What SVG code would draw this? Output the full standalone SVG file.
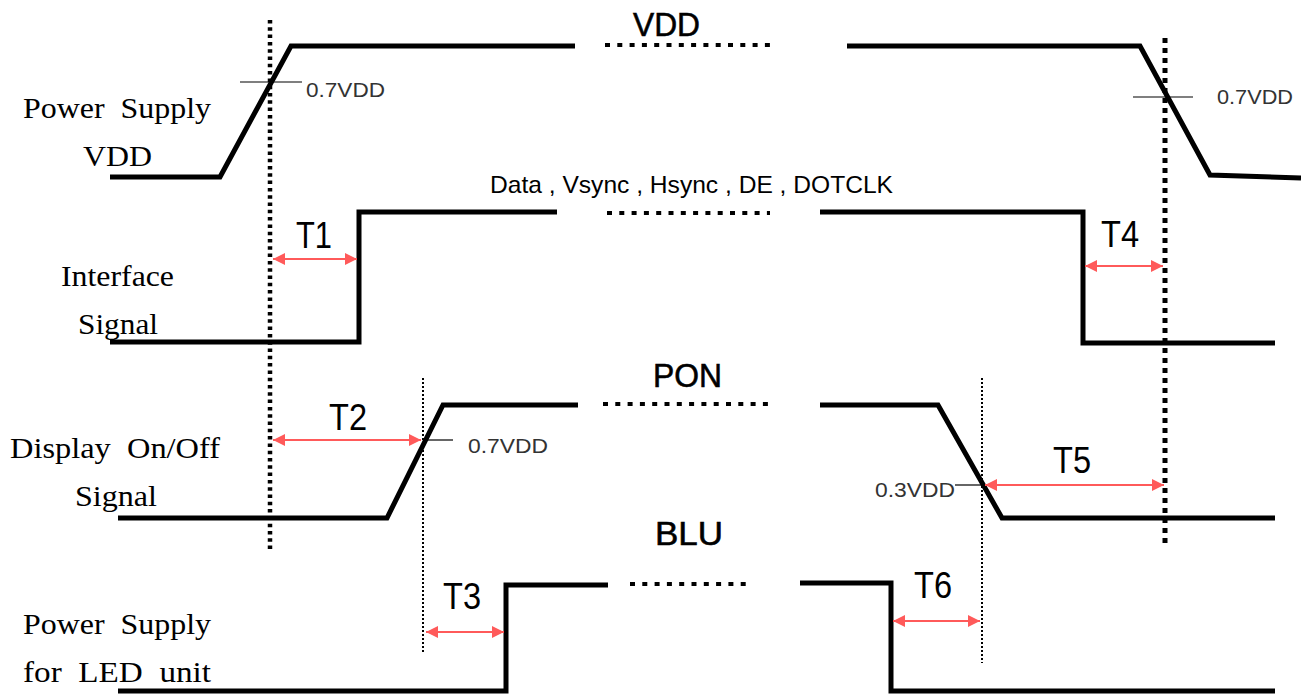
<svg xmlns="http://www.w3.org/2000/svg" width="1301" height="695" viewBox="0 0 1301 695">
<style>
.sig{fill:none;stroke:#000;stroke-width:5;stroke-linejoin:miter}
.gap{fill:none;stroke:#000;stroke-width:4;stroke-dasharray:5 7.3}
.thick-dot{fill:none;stroke:#000;stroke-width:4.5;stroke-dasharray:3.5 3.8}
.sq-dot{fill:none;stroke:#000;stroke-width:5;stroke-dasharray:5 5}
.thin-dot{fill:none;stroke:#000;stroke-width:2;stroke-dasharray:2 2}
.tick{stroke:#000;stroke-width:1.2}
.arr{stroke:#ff5a5a;stroke-width:2;marker-start:url(#ah);marker-end:url(#ah)}
.lbl{font-family:"Liberation Serif","Times New Roman",serif;font-size:30px;fill:#000}
.hdr{font-family:"Liberation Sans",Arial,sans-serif;font-size:34px;fill:#000;stroke:#000;stroke-width:0.6}
.sm{font-family:"Liberation Sans",Arial,sans-serif;font-size:21px;fill:#333}
.t{font-family:"Liberation Sans",Arial,sans-serif;font-size:37px;fill:#000}
</style>
<defs>
<marker id="ah" viewBox="0 0 10 10" refX="10" refY="5" markerWidth="6" markerHeight="6" orient="auto-start-reverse" markerUnits="strokeWidth">
<path d="M0,0 L10,5 L0,10 Z" fill="#ff5a5a"/>
</marker>
</defs>

<g id="labels">
<text class="lbl" x="23" y="118" textLength="188" lengthAdjust="spacingAndGlyphs">Power&#160;&#160;Supply</text>
<text class="lbl" x="83" y="166" textLength="69" lengthAdjust="spacingAndGlyphs">VDD</text>
<text class="lbl" x="61" y="286" textLength="113" lengthAdjust="spacingAndGlyphs">Interface</text>
<text class="lbl" x="78" y="334" textLength="80" lengthAdjust="spacingAndGlyphs">Signal</text>
<text class="lbl" x="10" y="458" textLength="210" lengthAdjust="spacingAndGlyphs">Display&#160;&#160;On/Off</text>
<text class="lbl" x="75" y="506" textLength="82" lengthAdjust="spacingAndGlyphs">Signal</text>
<text class="lbl" x="23" y="634" textLength="188" lengthAdjust="spacingAndGlyphs">Power&#160;&#160;Supply</text>
<text class="lbl" x="23" y="682" textLength="188" lengthAdjust="spacingAndGlyphs">for&#160;&#160;LED&#160;&#160;unit</text>
</g>

<g id="vdd">
<polyline class="sig" points="110,177 220,177 291,46 575,46"/>
<line class="gap" x1="605" y1="45" x2="770" y2="45"/>
<polyline class="sig" points="847,46 1140,46 1210,175 1301,178"/>
<text class="hdr" x="633" y="36" textLength="67" lengthAdjust="spacingAndGlyphs">VDD</text>
<line class="tick" x1="240" y1="82" x2="302" y2="82"/>
<text class="sm" x="306" y="97" textLength="79" lengthAdjust="spacingAndGlyphs">0.7VDD</text>
<line class="tick" x1="1133" y1="97" x2="1193" y2="97"/>
<text class="sm" x="1217" y="104" textLength="76" lengthAdjust="spacingAndGlyphs">0.7VDD</text>
</g>

<g id="interface">
<polyline class="sig" points="110,342 359,342 359,212 557,212"/>
<line class="gap" x1="607" y1="213" x2="770" y2="213"/>
<polyline class="sig" points="820,212 1083,212 1083,343 1275,343"/>
<text class="sm" x="490" y="193" textLength="403" lengthAdjust="spacingAndGlyphs" style="fill:#000;font-size:24px">Data , Vsync , Hsync , DE , DOTCLK</text>
</g>

<g id="pon">
<polyline class="sig" points="118,518 387,518 443,405 578,405"/>
<line class="gap" x1="603" y1="404" x2="770" y2="404"/>
<polyline class="sig" points="820,405 938,405 1002,518 1275,518"/>
<text class="hdr" x="653" y="387" textLength="69" lengthAdjust="spacingAndGlyphs">PON</text>
<line class="tick" x1="423" y1="440" x2="453" y2="440"/>
<text class="sm" x="468" y="453" textLength="80" lengthAdjust="spacingAndGlyphs">0.7VDD</text>
<line class="tick" x1="955" y1="485" x2="985" y2="485"/>
<text class="sm" x="875" y="497" textLength="80" lengthAdjust="spacingAndGlyphs">0.3VDD</text>
</g>

<g id="blu">
<polyline class="sig" points="118,691 506,691 506,585 608,585"/>
<line class="gap" x1="630" y1="584" x2="753" y2="584"/>
<polyline class="sig" points="800,583 891,583 891,691 1275,691"/>
<text class="hdr" x="655" y="545" textLength="68" lengthAdjust="spacingAndGlyphs">BLU</text>
</g>

<g id="connectors">
<line class="thick-dot" x1="270" y1="20" x2="270" y2="550"/>
<line class="sq-dot" x1="1165" y1="38" x2="1165" y2="547"/>
<line class="thin-dot" x1="423" y1="378" x2="423" y2="652"/>
<line class="thin-dot" x1="982" y1="378" x2="982" y2="663"/>
<line class="arr" x1="273" y1="259" x2="357" y2="259"/>
<line class="arr" x1="1085" y1="266" x2="1163" y2="266"/>
<line class="arr" x1="273" y1="440" x2="421" y2="440"/>
<line class="arr" x1="985" y1="485" x2="1164" y2="485"/>
<line class="arr" x1="426" y1="632" x2="504" y2="632"/>
<line class="arr" x1="893" y1="621" x2="980" y2="621"/>
</g>

<g id="timings">
<text class="t" x="296" y="248" textLength="36" lengthAdjust="spacingAndGlyphs">T1</text>
<text class="t" x="1101" y="247" textLength="38" lengthAdjust="spacingAndGlyphs">T4</text>
<text class="t" x="329" y="430" textLength="38" lengthAdjust="spacingAndGlyphs">T2</text>
<text class="t" x="1053" y="473" textLength="38" lengthAdjust="spacingAndGlyphs">T5</text>
<text class="t" x="443" y="609" textLength="38" lengthAdjust="spacingAndGlyphs">T3</text>
<text class="t" x="914" y="598" textLength="38" lengthAdjust="spacingAndGlyphs">T6</text>
</g>
</svg>
